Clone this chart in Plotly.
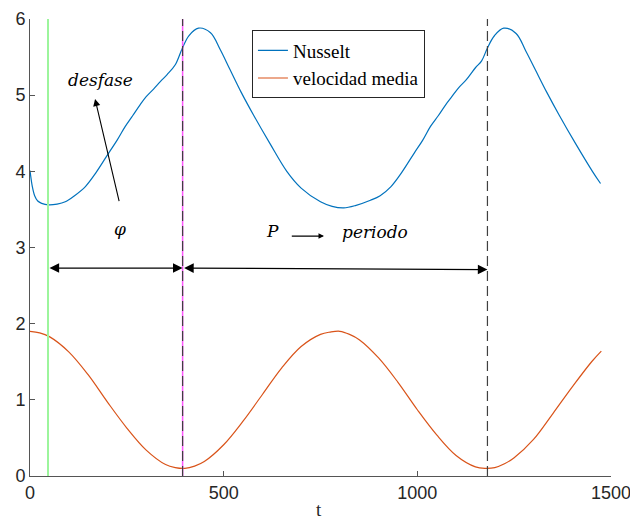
import plotly.graph_objects as go

# Nusselt curve
t_nu = [0, 6, 12, 20, 30, 48, 70, 91, 115, 143, 170, 203, 225, 246, 265, 285, 300, 319,
        337, 354, 375, 392, 410, 435, 466, 491, 516, 545, 577,
        620, 663, 700, 750, 780, 810, 840, 879, 904, 932, 959, 992, 1014, 1034, 1054, 1074,
        1089, 1107, 1126, 1150, 1166, 1181, 1199, 1223, 1255,
        1280, 1305, 1334, 1366, 1409, 1452, 1473]
nusselt = [4.01, 3.80, 3.68, 3.61, 3.58, 3.56, 3.57, 3.60, 3.68, 3.80, 3.98, 4.24, 4.41,
           4.59, 4.73, 4.88, 4.98, 5.08, 5.18, 5.27, 5.40, 5.60, 5.78, 5.88,
           5.82, 5.60, 5.34, 5.04, 4.74, 4.36, 4.00, 3.78, 3.60, 3.54, 3.52,
           3.55, 3.62, 3.68, 3.80, 3.98, 4.24, 4.41, 4.59, 4.73, 4.88, 4.98, 5.10, 5.20, 5.36,
           5.45, 5.62, 5.78, 5.88, 5.81, 5.58, 5.33, 5.04,
           4.74, 4.36, 4.00, 3.84]

# Mean velocity curve
t_vel = [0, 25, 50, 100, 150, 200, 250, 300, 350, 375, 400, 425, 450, 500, 550, 600, 650,
         700, 750, 775, 800, 825, 850, 900, 950, 1000, 1050, 1100, 1150, 1175, 1200, 1225,
         1250, 1300, 1350, 1400, 1450, 1475]
velocidad = [1.90, 1.88, 1.83, 1.63, 1.33, 0.97, 0.63, 0.34, 0.15, 0.11, 0.10, 0.13, 0.19,
             0.41, 0.72, 1.07, 1.42, 1.70, 1.86, 1.89, 1.90, 1.86, 1.79, 1.55, 1.23, 0.87,
             0.54, 0.27, 0.12, 0.10, 0.11, 0.16, 0.24, 0.48, 0.82, 1.17, 1.50, 1.64]

# Marker lines
t_green = 46.5
t_period = [394, 1181]
y_arrow = 2.73

x_ticks = [0, 500, 1000, 1500]
y_ticks = [0, 1, 2, 3, 4, 5, 6]

fig = go.Figure()

# vertical guide lines
fig.add_shape(type="line", x0=t_green, x1=t_green, y0=0, y1=6, xref="x", yref="y",
              line=dict(color="#9CF59C", width=2))
fig.add_shape(type="line", x0=t_period[0], x1=t_period[0], y0=0, y1=6, xref="x", yref="y",
              line=dict(color="#FF55FF", width=1.5))
for tp in t_period:
    fig.add_shape(type="line", x0=tp, x1=tp, y0=0, y1=6, xref="x", yref="y",
                  line=dict(color="#404040", width=1.2, dash="10px,5px"))

fig.add_trace(go.Scatter(x=t_nu, y=nusselt, mode="lines", name="Nusselt",
                         line=dict(color="#0072BD", width=1.2, shape="spline", smoothing=1)))
fig.add_trace(go.Scatter(x=t_vel, y=velocidad, mode="lines", name="velocidad media",
                         line=dict(color="#D95319", width=1.2, shape="spline", smoothing=1)))

serif = "Liberation Serif, DejaVu Serif, serif"
math = "DejaVu Serif, serif"

# text annotations
fig.add_annotation(x=181, y=5.2, text="<i>desfase</i>", showarrow=False,
                   font=dict(family=math, size=17, color="black"))
fig.add_annotation(x=233, y=3.24, text="<i>φ</i>", showarrow=False,
                   font=dict(family=math, size=17, color="black"))
fig.add_annotation(x=625, y=3.22, text="<i>P</i>", showarrow=False,
                   font=dict(family=math, size=17, color="black"))
fig.add_annotation(x=891, y=3.2, text="<i>periodo</i>", showarrow=False,
                   font=dict(family=math, size=17, color="black"))
fig.add_annotation(x=745, y=0, xref="x", yref="paper", yshift=-46, text="t", showarrow=False,
                   font=dict(family=serif, size=19, color="#262626"))

# arrows
fig.add_annotation(x=168, y=4.95, ax=231, ay=3.59, xref="x", yref="y", axref="x", ayref="y",
                   text="", showarrow=True, arrowhead=2, arrowsize=1.3, arrowwidth=1.1,
                   arrowcolor="black")
fig.add_annotation(x=759, y=3.15, ax=672, ay=3.15, xref="x", yref="y", axref="x", ayref="y",
                   text="", showarrow=True, arrowhead=2, arrowsize=1.0, arrowwidth=1.1,
                   arrowcolor="black")
fig.add_annotation(x=t_period[0], y=y_arrow, ax=t_green, ay=y_arrow, xref="x", yref="y",
                   axref="x", ayref="y", text="", showarrow=True, arrowhead=2, arrowside="end+start",
                   startarrowhead=2, arrowsize=1.6, startarrowsize=1.6, arrowwidth=1.2,
                   arrowcolor="black")
fig.add_annotation(x=t_period[1], y=y_arrow - 0.02, ax=t_period[0], ay=y_arrow, xref="x", yref="y",
                   axref="x", ayref="y", text="", showarrow=True, arrowhead=2, arrowside="end+start",
                   startarrowhead=2, arrowsize=1.6, startarrowsize=1.6, arrowwidth=1.2,
                   arrowcolor="black")

axis_common = dict(showgrid=False, zeroline=False, showline=True, linecolor="#555555",
                   linewidth=1, ticks="inside", ticklen=5, tickcolor="#555555", automargin=False,
                   ticklabeloverflow="allow",
                   tickfont=dict(family="Liberation Sans, Arial, sans-serif", size=18,
                                 color="#262626"))

fig.update_layout(
    width=630, height=526,
    margin=dict(l=30, r=19, t=19, b=50),
    paper_bgcolor="white", plot_bgcolor="white",
    xaxis=dict(range=[0, 1500], tickvals=x_ticks, ticktext=[str(v) for v in x_ticks],
               **axis_common),
    yaxis=dict(range=[0, 6], tickvals=y_ticks, ticktext=[str(v) for v in y_ticks],
               **axis_common),
    legend=dict(x=0.382, y=0.975, xanchor="left", yanchor="top",
                bordercolor="#262626", borderwidth=1, bgcolor="white",
                font=dict(family=serif, size=19, color="black"),
                tracegroupgap=0),
    showlegend=True,
)

fig.write_html("out.html")
